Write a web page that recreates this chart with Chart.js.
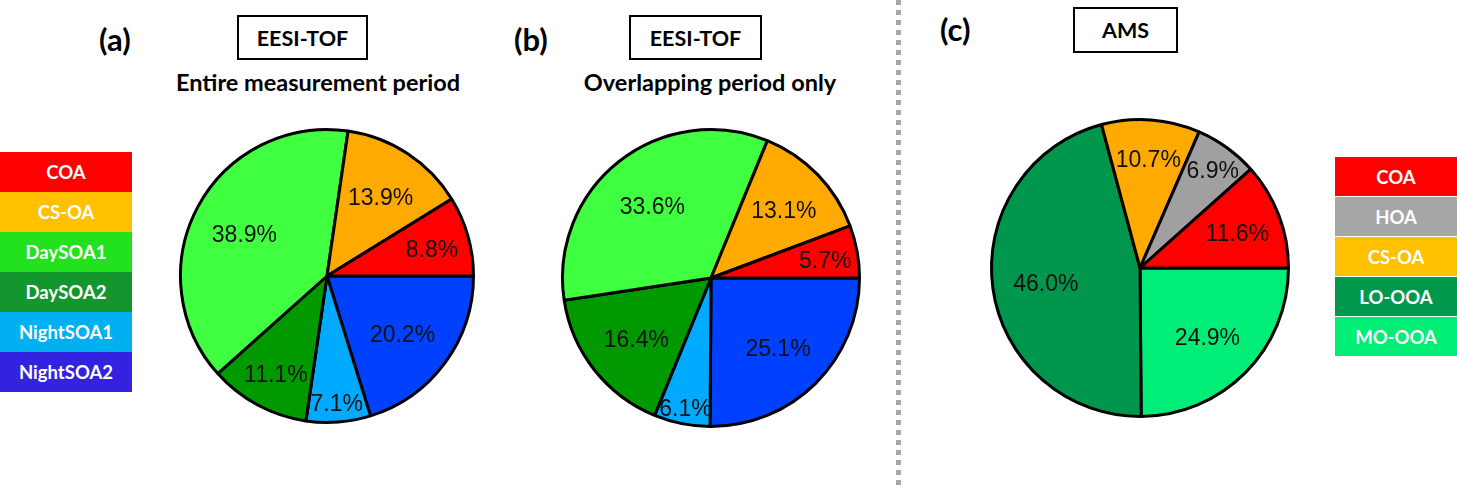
<!DOCTYPE html>
<html lang="en">
<head>
  <meta charset="UTF-8">
  <title>EESI-TOF vs AMS source apportionment</title>
  <script src="https://cdn.jsdelivr.net/npm/chart.js"></script>
  <style>
    * { box-sizing: border-box; margin: 0; padding: 0; }
    body {
      width: 1457px;
      height: 488px;
      background: #fff;
      position: relative;
      overflow: hidden;
      font-family: 'Lato', 'Open Sans', sans-serif;
      font-weight: bold;
      color: #000;
    }
    .abs { position: absolute; }
    .panel-tag { font-size: 31px; }
    .inst-box {
      border: 2px solid #000;
      display: flex;
      align-items: center;
      justify-content: center;
      font-size: 21.5px;
    }
    .subtitle { font-size: 23.5px; text-align: center; white-space: nowrap; }
    .legend div {
      height: 40px;
      display: flex;
      align-items: center;
      justify-content: center;
      color: #fff;
      font-size: 18.5px;
    }
    .legend-right div { border-bottom: 1px solid #fff; }
    #divider {
      left: 896px; top: 0; width: 5px; height: 488px;
      background: repeating-linear-gradient(to bottom, #a8a8a8 0 5px, transparent 5px 10px);
    }
    canvas { position: absolute; }
  </style>
</head>
<body>

<!-- panel headings -->
<div class="abs panel-tag" style="left:99px; top:20px;">(a)</div>
<div class="abs inst-box" style="left:237px; top:15px; width:131px; height:45px;">EESI-TOF</div>
<div class="abs subtitle" style="left:118px; top:68px; width:400px;">Entire measurement period</div>

<div class="abs panel-tag" style="left:514px; top:20px;">(b)</div>
<div class="abs inst-box" style="left:629px; top:15px; width:133px; height:45px;">EESI-TOF</div>
<div class="abs subtitle" style="left:510px; top:68px; width:400px;">Overlapping period only</div>

<div id="divider" class="abs"></div>

<div class="abs panel-tag" style="left:940px; top:10px;">(c)</div>
<div class="abs inst-box" style="left:1073px; top:7px; width:105px; height:46px;">AMS</div>

<!-- legends -->
<div class="abs legend" id="legendLeft" style="left:0; top:152px; width:132px;"></div>
<div class="abs legend legend-right" id="legendRight" style="left:1335px; top:157px; width:122px;"></div>

<canvas id="pieA" width="302" height="302" style="left:176px; top:125px;"></canvas>
<canvas id="pieB" width="306" height="306" style="left:558px; top:125px;"></canvas>
<canvas id="pieC" width="306" height="306" style="left:987px; top:115px;"></canvas>

<script>
  // EESI-TOF factors (legend order, counter-clockwise from 3 o'clock in the pies)
  const eesiLabels = ['COA', 'CS-OA', 'DaySOA1', 'DaySOA2', 'NightSOA1', 'NightSOA2'];
  const entirePeriod = [8.8, 13.9, 38.9, 11.1, 7.1, 20.2];
  const overlapPeriod = [5.7, 13.1, 33.6, 16.4, 6.1, 25.1];
  const eesiPieColors = ['#ff0000', '#ffaa00', '#40ff40', '#009900', '#00aaff', '#0040ff'];
  const eesiLegendColors = ['#ff0000', '#ffc000', '#22e11d', '#14962f', '#00b0f0', '#3322e0'];

  // AMS factors
  const amsLabels = ['COA', 'HOA', 'CS-OA', 'LO-OOA', 'MO-OOA'];
  const amsValues = [11.6, 6.9, 10.7, 46.0, 24.9];
  const amsPieColors = ['#ff0000', '#a0a0a0', '#ffaa00', '#00964b', '#00ee78'];
  const amsLegendColors = ['#ff0000', '#a6a6a6', '#ffc000', '#00994c', '#00ee76'];

  function buildLegend(id, labels, colors) {
    const el = document.getElementById(id);
    labels.forEach((l, i) => {
      const d = document.createElement('div');
      d.textContent = l;
      d.style.background = colors[i];
      el.appendChild(d);
    });
  }
  buildLegend('legendLeft', eesiLabels, eesiLegendColors);
  buildLegend('legendRight', amsLabels, amsLegendColors);

  // percentage text inside each slice; small slices pushed outward,
  // more so when the slice points up or down (text is wide, not tall)
  const pctLabels = {
    id: 'pctLabels',
    afterDatasetsDraw(chart) {
      const ctx = chart.ctx;
      const ds = chart.data.datasets[0];
      ctx.save();
      ctx.font = '23px "Liberation Sans", Arial, sans-serif';
      ctx.fillStyle = '#111';
      ctx.textAlign = 'center';
      ctx.textBaseline = 'middle';
      chart.getDatasetMeta(0).data.forEach((arc, i) => {
        const v = ds.data[i];
        const mid = (arc.startAngle + arc.endAngle) / 2;
        const s = Math.max(0, Math.min(1, (15 - v) / 9));
        const frac = 0.64 + s * (0.12 + 0.12 * Math.abs(Math.sin(mid)));
        const r = arc.outerRadius * frac;
        ctx.fillText(v.toFixed(1) + '%', arc.x + Math.cos(mid) * r, arc.y + Math.sin(mid) * r + 4);
      });
      ctx.restore();
    }
  };

  function makePie(id, labels, values, colors) {
    // Chart.js goes clockwise, the reference goes counter-clockwise: reverse
    new Chart(document.getElementById(id), {
      type: 'pie',
      data: {
        labels: labels.slice().reverse(),
        datasets: [{
          data: values.slice().reverse(),
          backgroundColor: colors.slice().reverse(),
          borderColor: '#000',
          borderWidth: 3
        }]
      },
      options: {
        responsive: false,
        animation: false,
        rotation: 90,
        layout: { padding: 3 },
        plugins: { legend: { display: false }, tooltip: { enabled: false } }
      },
      plugins: [pctLabels]
    });
  }

  makePie('pieA', eesiLabels, entirePeriod, eesiPieColors);
  makePie('pieB', eesiLabels, overlapPeriod, eesiPieColors);
  makePie('pieC', amsLabels, amsValues, amsPieColors);
</script>
</body>
</html>
